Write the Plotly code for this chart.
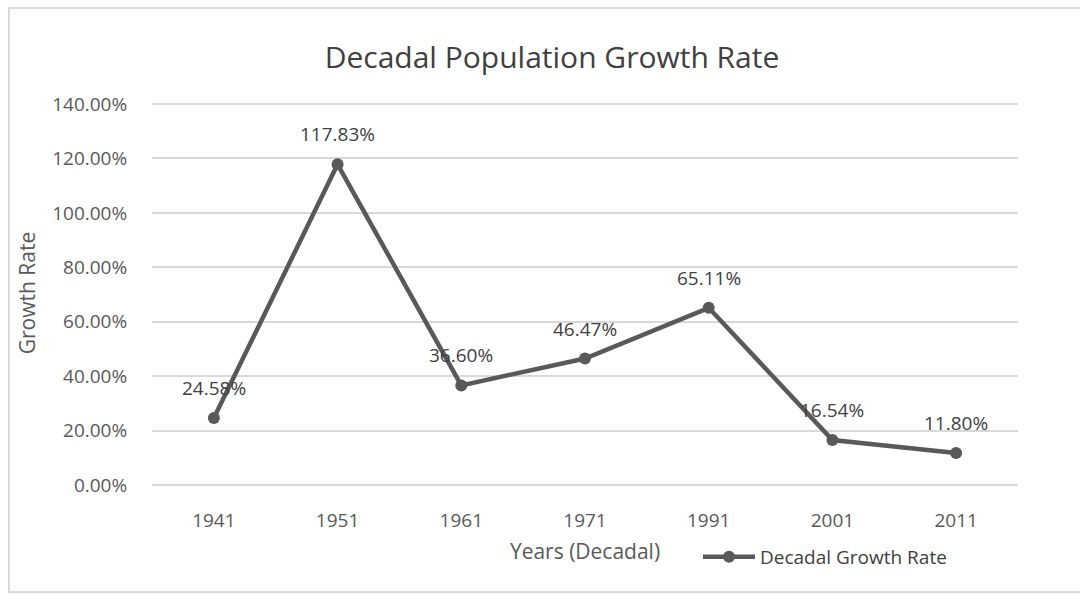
import plotly.graph_objects as go

years = ["1941", "1951", "1961", "1971", "1991", "2001", "2011"]
growth_rate = [24.58, 117.83, 36.60, 46.47, 65.11, 16.54, 11.80]
y_ticks = [0, 20, 40, 60, 80, 100, 120, 140]

FONT = "Open Sans"
LINE_COLOR = "#595959"

W, H = 1080, 595
ML, MR, MT, MB = 152, 62, 101, 110
PW, PH = W - ML - MR, H - MT - MB

fig = go.Figure()
fig.add_trace(go.Scatter(
    x=years, y=growth_rate, mode="lines+markers",
    name="Decadal Growth Rate",
    line=dict(color=LINE_COLOR, width=4.5),
    marker=dict(color=LINE_COLOR, size=12),
))

for i, v in enumerate(growth_rate):
    fig.add_annotation(x=i, y=v, xref="x", yref="y", text=f"{v:.2f}%", showarrow=False,
                       yshift=30, font=dict(family=FONT, size=19, color="#404040"))

def px_to_paper_x(px):
    return (px - ML) / PW

def px_to_paper_y(py):
    return (MT + PH - py) / PH

fig.add_shape(type="rect", xref="paper", yref="paper",
              x0=px_to_paper_x(9), x1=px_to_paper_x(1090),
              y0=px_to_paper_y(592), y1=px_to_paper_y(8),
              line=dict(color="#d9d9d9", width=2), fillcolor="rgba(0,0,0,0)",
              layer="below")

fig.update_layout(
    width=W, height=H,
    margin=dict(l=ML, r=MR, t=MT, b=MB, autoexpand=False),
    paper_bgcolor="white", plot_bgcolor="white",
    title=dict(text="Decadal Population Growth Rate", x=552 / W, xanchor="center",
               y=1 - 57 / H, yanchor="middle", xref="container", yref="container",
               font=dict(family=FONT, size=30, color="#404040")),
    font=dict(family=FONT, color=LINE_COLOR),
    showlegend=True,
    legend=dict(x=px_to_paper_x(698), y=px_to_paper_y(557), xanchor="left", yanchor="middle",
                orientation="h", itemwidth=52,
                font=dict(family=FONT, size=19, color="#404040"),
                bgcolor="rgba(0,0,0,0)"),
    xaxis=dict(type="category", range=[-0.5, len(years) - 0.5],
               showgrid=False, zeroline=False, showline=False,
               ticks="outside", ticklen=18, tickcolor="rgba(0,0,0,0)",
               tickfont=dict(family=FONT, size=19, color=LINE_COLOR),
               title=dict(text="Years (Decadal)", standoff=12,
                          font=dict(family=FONT, size=21, color=LINE_COLOR))),
    yaxis=dict(range=[0, 141.1], tickvals=y_ticks,
               ticktext=[f"{t:.2f}%" for t in y_ticks],
               showgrid=True, gridcolor="#d9d9d9", gridwidth=1.5,
               zeroline=True, zerolinecolor="#d9d9d9", zerolinewidth=1.5,
               showline=False,
               ticks="outside", ticklen=20, tickcolor="rgba(0,0,0,0)",
               tickfont=dict(family=FONT, size=19, color=LINE_COLOR),
               title=dict(text="Growth Rate", standoff=10,
                          font=dict(family=FONT, size=21, color=LINE_COLOR))),
)

fig.write_html("out.html")
